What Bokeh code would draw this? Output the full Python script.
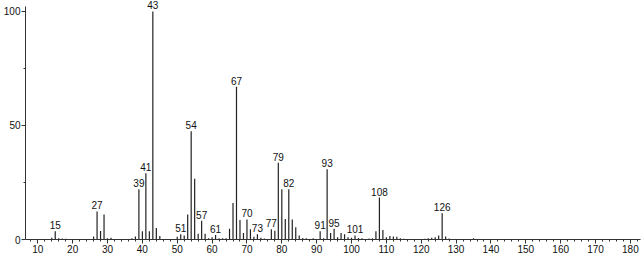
from bokeh.plotting import figure
from bokeh.models import Range1d, FixedTicker, ColumnDataSource
from bokeh.core.properties import value
from bokeh.embed import file_html
from bokeh.resources import INLINE

# m/z values and relative intensities (%)
mz = [14, 15, 16, 17, 18, 26, 27, 28, 29, 30, 31, 37, 38, 39, 40, 41, 42, 43, 44, 45,
      50, 51, 52, 53, 54, 55, 56, 57, 58, 59, 60, 61, 62, 63, 64, 65, 66, 67, 68, 69,
      70, 71, 72, 73, 74, 75, 77, 78, 79, 80, 81, 82, 83, 84, 85, 86, 87, 89, 91, 92,
      93, 94, 95, 96, 97, 98, 99, 100, 101, 102, 103, 105, 106, 107, 108, 109, 110,
      111, 112, 113, 114, 115, 121, 122, 123, 124, 125, 126, 127, 128, 135]
intensity = [0.8, 3.6, 0.5, 0.4, 0.3, 1.3, 12.3, 3.7, 11.0, 0.6, 0.8, 0.5, 1.3, 22.0, 3.6,
             29.0, 3.6, 100.0, 5.0, 1.5, 1.2, 2.3, 1.7, 11.0, 47.5, 26.6, 2.5, 8.2, 2.5,
             0.5, 1.0, 2.0, 0.5, 0.5, 0.5, 4.7, 16.0, 67.0, 8.5, 2.9, 8.8, 4.5, 1.2, 2.3,
             0.8, 0.4, 4.5, 3.8, 33.6, 22.0, 9.0, 22.0, 8.8, 5.4, 1.8, 0.7, 0.5, 0.5,
             3.6, 0.6, 30.8, 2.9, 4.7, 1.0, 2.9, 2.3, 1.0, 0.8, 1.8, 0.7, 0.5, 0.4, 0.6,
             3.6, 18.4, 4.2, 1.0, 1.5, 1.3, 1.2, 0.5, 0.3, 0.3, 0.5, 0.8, 1.0, 1.8, 11.5,
             1.3, 0.4, 0.5]

# annotated peaks
label_mz = [15, 27, 39, 41, 43, 51, 54, 57, 61, 67, 70, 73, 77, 79, 82, 91, 93, 95, 101, 108, 126]

x_major = list(range(10, 190, 10))
x_minor = list(range(8, 184, 2))
y_major = [0, 50, 100]
y_minor = [25, 75]

lookup = dict(zip(mz, intensity))
label_h = [lookup[m] for m in label_mz]
label_txt = [str(m) for m in label_mz]

p = figure(width=644, height=256, output_backend="svg", toolbar_location=None,
           x_range=Range1d(6.47, 182.9), y_range=Range1d(0, 104.8))
p.min_border_left = 25
p.min_border_right = 4
p.min_border_top = 0
p.min_border_bottom = 17
p.outline_line_color = None
p.xgrid.visible = False
p.ygrid.visible = False
p.background_fill_color = "white"

bars = ColumnDataSource(dict(x=mz, y0=[0] * len(mz), y1=intensity))
p.segment(x0="x", y0="y0", x1="x", y1="y1", source=bars, line_color="#222222", line_width=1.2)

labels = ColumnDataSource(dict(x=label_mz, y=label_h, t=label_txt))
p.text(x="x", y="y", text="t", source=labels, text_align="center", text_baseline="bottom",
       y_offset=-2, text_font=value("Liberation Sans"), text_font_size="10px", text_color="#111111")

for ax in (p.xaxis[0], p.yaxis[0]):
    ax.axis_line_color = "#333333"
    ax.major_tick_line_color = "#333333"
    ax.minor_tick_line_color = "#333333"
    ax.major_label_text_font = "Liberation Sans"
    ax.major_label_text_font_size = "10px"
    ax.major_label_text_color = "#111111"
    ax.major_tick_in = 0
    ax.major_tick_out = 4
    ax.minor_tick_in = 0
    ax.minor_tick_out = 2
    ax.major_label_standoff = 1

p.yaxis.bounds = (0, 102.2)
p.xaxis.ticker = FixedTicker(ticks=x_major, minor_ticks=x_minor)
p.yaxis.ticker = FixedTicker(ticks=y_major, minor_ticks=y_minor)

open("out.html", "w").write(file_html(p, INLINE))
